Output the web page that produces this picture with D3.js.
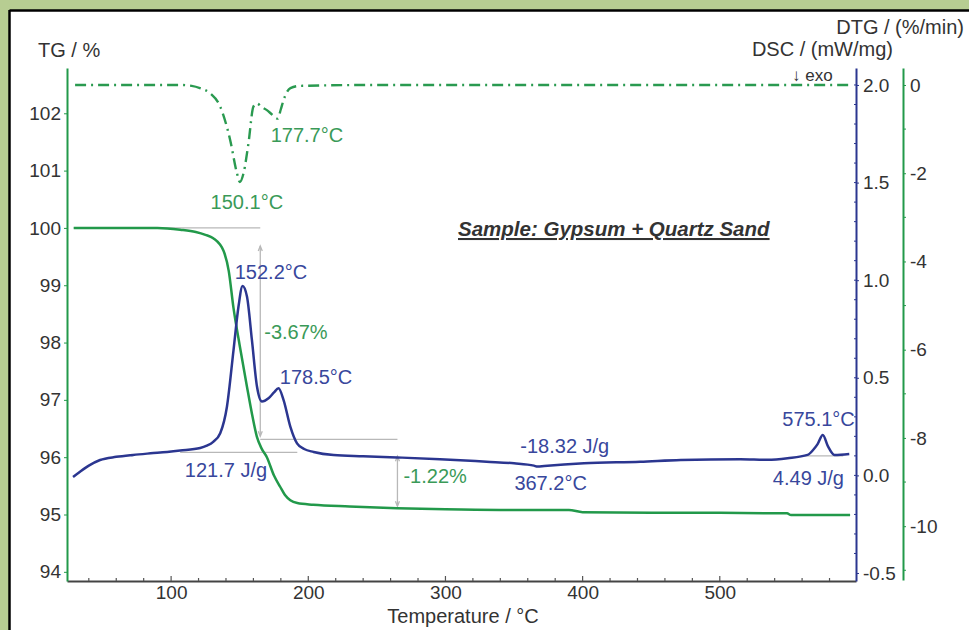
<!DOCTYPE html>
<html><head><meta charset="utf-8">
<script src="https://cdn.jsdelivr.net/npm/d3@7"></script>
<style>
html,body{margin:0;padding:0;background:#b7cd92;}
svg{display:block;font-family:"Liberation Sans",Arial,sans-serif;}
</style></head>
<body>
<svg id="chart" width="969" height="630"></svg>
<script>
// ---- data ----
const tgTemp = [29,60,90,106.6,118,125,130.7,138.2,142,145.5,150,155.3,159,162.5,166,169.8,175,179.6,183,186.9,192,203.6,230,264.7,300,340,390,400,450,500,549,552,595];
const tgVal  = [100.0,100.0,100.0,99.97,99.93,99.88,99.82,99.6,99.25,98.6,97.95,97.23,96.75,96.36,96.15,96.0,95.68,95.48,95.34,95.25,95.2,95.17,95.14,95.11,95.09,95.08,95.08,95.04,95.03,95.03,95.02,94.99,94.99];

const dscTemp = [28.5,33.6,40,48.2,60,72.3,85,97.1,106.6,121.2,126,130.7,135.8,140.7,145.5,149.1,152.1,155.3,158.9,162.6,166.2,171,175,178.3,182,186.9,191.8,197,203.9,218.5,240,264.7,296,330,350,364.5,367.2,372,401,442,471.5,515,534.8,549.4,564,568,571.3,575.1,578.8,583.6,594.4];
const dscVal  = [-0.008,0.019,0.05,0.079,0.095,0.105,0.113,0.12,0.127,0.14,0.152,0.172,0.216,0.352,0.642,0.864,0.97,0.916,0.694,0.455,0.378,0.395,0.425,0.446,0.386,0.25,0.164,0.135,0.12,0.104,0.098,0.092,0.083,0.07,0.062,0.05,0.045,0.048,0.062,0.07,0.079,0.083,0.08,0.088,0.105,0.13,0.16,0.207,0.15,0.105,0.11];

const dtgTemp = [30,80,106.6,115,121,128.5,135.8,143,148,150.1,152.8,156.4,160,162.6,166,169.8,174,177.7,180,182,187,194,250,350,450,550,595];
const dtgVal  = [0,0,0,-0.02,-0.07,-0.19,-0.49,-1.24,-2.0,-2.2,-2.0,-1.32,-0.49,-0.42,-0.5,-0.57,-0.68,-0.76,-0.55,-0.34,-0.07,-0.02,0,0,0,0,0];

const xTicks   = [100,200,300,400,500];
const tgTicks  = [94,95,96,97,98,99,100,101,102];
const dscTicks = [-0.5,0.0,0.5,1.0,1.5,2.0];
const dtgTicks = [-10,-8,-6,-4,-2,0];

const peakLabels = [
  {text:"150.1°C", T:150.1, axis:"dtg", v:-2.2},
  {text:"177.7°C", T:177.7, axis:"dtg", v:-0.76},
  {text:"152.2°C", T:152.2, axis:"dsc", v:0.97},
  {text:"178.5°C", T:178.5, axis:"dsc", v:0.446},
  {text:"367.2°C", T:367.2, axis:"dsc", v:0.045},
  {text:"575.1°C", T:575.1, axis:"dsc", v:0.207}
];
const tgSteps = [
  {text:"-3.67%", T:165, from:100.0, to:96.33},
  {text:"-1.22%", T:265, from:96.33, to:95.11}
];
const enthalpies = [
  {text:"121.7 J/g", T:140},
  {text:"-18.32 J/g", T:387},
  {text:"4.49 J/g", T:566}
];

// ---- layout ----
const svg = d3.select("#chart");
const green = "#22994a", greenTxt = "#3a9a58", navy = "#2b3690", navyTxt = "#38479c", gray="#333";
const fs = 19, fsT = 20;
const hy = s => String(s).replace("\u2212","-");

svg.append("rect").attr("x",0).attr("y",0).attr("width",969).attr("height",630).attr("fill","#b7cd92");
svg.append("rect").attr("x",9).attr("y",10).attr("width",960).attr("height",620).attr("fill","#fff");
svg.append("line").attr("x1",9.5).attr("x2",969).attr("y1",10.5).attr("y2",10.5).attr("stroke","#000").attr("stroke-width",2.5);
svg.append("line").attr("x1",9.5).attr("x2",9.5).attr("y1",10).attr("y2",630).attr("stroke","#000").attr("stroke-width",2.5);

const x = d3.scaleLinear().domain([24.1,599.3]).range([67,856]);
const yTG = d3.scaleLinear().domain([93.84,102.79]).range([581,68]);
const yDSC = d3.scaleLinear().domain([-0.541,2.087]).range([581,68]);
const yDTG = d3.scaleLinear().domain([-11.22,0.385]).range([580,68]);

// x axis
const gx = svg.append("g").attr("transform","translate(0,581)")
  .call(d3.axisBottom(x).tickValues(xTicks).tickSize(0).tickSizeOuter(0).tickPadding(6).tickFormat(d=>String(d)));
gx.select(".domain").attr("stroke","#444").attr("stroke-width",2);
gx.selectAll("text").attr("font-size",fs).attr("fill",gray).attr("font-family","Liberation Sans, Arial").attr("dy","0.62em");
const minorX = d3.range(40,600,20);
svg.append("g").selectAll("line").data(minorX).join("line")
  .attr("x1",d=>x(d)).attr("x2",d=>x(d)).attr("y1",581).attr("y2",d=>d%100===0?576:578)
  .attr("stroke","#555").attr("stroke-width",1.2);

// left TG axis
const gl = svg.append("g").attr("transform","translate(67,0)")
  .call(d3.axisLeft(yTG).tickValues(tgTicks).tickSize(3).tickSizeOuter(0).tickPadding(3).tickFormat(d=>String(d)));
gl.select(".domain").attr("stroke",green).attr("stroke-width",2);
gl.selectAll(".tick line").attr("stroke",green);
gl.selectAll("text").attr("font-size",fs).attr("fill",gray).attr("font-family","Liberation Sans, Arial");

// DSC axis
const gd = svg.append("g").attr("transform","translate(856,0)")
  .call(d3.axisRight(yDSC).tickValues(dscTicks).tickSize(3).tickSizeOuter(0).tickPadding(4).tickFormat(d=>hy(d.toFixed(1))));
gd.select(".domain").attr("stroke",navy).attr("stroke-width",2);
gd.selectAll(".tick line").attr("stroke",navy);
gd.selectAll("text").attr("font-size",fs).attr("fill",gray).attr("font-family","Liberation Sans, Arial");
svg.append("g").selectAll("line").data(d3.range(-4,21).map(d=>d/10)).join("line")
  .attr("x1",854).attr("x2",856).attr("y1",d=>yDSC(d)).attr("y2",d=>yDSC(d)).attr("stroke",navy).attr("stroke-width",1);

// DTG axis
const gt = svg.append("g").attr("transform","translate(903,0)")
  .call(d3.axisRight(yDTG).tickValues(dtgTicks).tickSize(3).tickSizeOuter(0).tickPadding(4).tickFormat(d=>hy(d)));
gt.select(".domain").attr("stroke",green).attr("stroke-width",2);
gt.selectAll(".tick line").attr("stroke",green);
gt.selectAll("text").attr("font-size",fs).attr("fill",gray).attr("font-family","Liberation Sans, Arial");
svg.append("g").selectAll("line").data(d3.range(-11,0,2)).join("line")
  .attr("x1",903).attr("x2",906).attr("y1",d=>yDTG(d)).attr("y2",d=>yDTG(d)).attr("stroke",green).attr("stroke-width",1);

// axis titles
svg.append("text").attr("x",38).attr("y",57).attr("font-size",fsT).attr("fill",gray).text("TG / %");
svg.append("text").attr("x",964).attr("y",34).attr("text-anchor","end").attr("font-size",fsT).attr("fill",gray).text("DTG / (%/min)");
svg.append("text").attr("x",893).attr("y",56).attr("text-anchor","end").attr("font-size",fsT).attr("fill",gray).text("DSC / (mW/mg)");
svg.append("text").attr("x",792).attr("y",81).attr("font-size",17).attr("fill",gray).text("↓ exo");
svg.append("text").attr("x",463).attr("y",623).attr("text-anchor","middle").attr("font-size",fsT).attr("fill",gray).text("Temperature / °C");

// sample title
svg.append("text").attr("x",458).attr("y",236).attr("font-size",20.5).attr("font-weight","bold").attr("font-style","italic")
  .attr("fill","#333").attr("text-decoration","underline").text("Sample: Gypsum + Quartz Sand");

// annotation gray lines
const annot = svg.append("g").attr("stroke","#b8b8b8").attr("stroke-width",1.3).attr("fill","none");
annot.append("line").attr("x1",x(29)).attr("x2",x(165)).attr("y1",yTG(100)).attr("y2",yTG(100));
annot.append("line").attr("x1",x(165)).attr("x2",x(265)).attr("y1",yTG(96.31)).attr("y2",yTG(96.31));
annot.append("line").attr("x1",x(106.6)).attr("x2",x(192)).attr("y1",yDSC(0.118)).attr("y2",yDSC(0.118));
annot.append("line").attr("x1",x(560)).attr("x2",x(590)).attr("y1",yDSC(0.1)).attr("y2",yDSC(0.1));
tgSteps.forEach(s=>{
  const y1 = yTG(s.from)+18, y2 = yTG(s.to)-2;
  annot.append("line").attr("x1",x(s.T)).attr("x2",x(s.T)).attr("y1",y1).attr("y2",y2);
  annot.append("path").attr("d",`M${x(s.T)-2},${y1+5}L${x(s.T)},${y1}L${x(s.T)+2},${y1+5}`);
  annot.append("path").attr("d",`M${x(s.T)-2},${y2-5}L${x(s.T)},${y2}L${x(s.T)+2},${y2-5}`);
});

// curves
const lineTG = d3.line().x(d=>x(d[0])).y(d=>yTG(d[1])).curve(d3.curveMonotoneX);
const lineDSC = d3.line().x(d=>x(d[0])).y(d=>yDSC(d[1])).curve(d3.curveMonotoneX);
const lineDTG = d3.line().x(d=>x(d[0])).y(d=>yDTG(d[1])).curve(d3.curveMonotoneX);

svg.append("path").attr("d",lineDTG(d3.zip(dtgTemp,dtgVal))).attr("fill","none").attr("stroke","#2a9a50")
  .attr("stroke-width",2.4).attr("stroke-dasharray","11,5,2,5");
svg.append("path").attr("d",lineTG(d3.zip(tgTemp,tgVal))).attr("fill","none").attr("stroke",green).attr("stroke-width",2.5);
svg.append("path").attr("d",lineDSC(d3.zip(dscTemp,dscVal))).attr("fill","none").attr("stroke",navy).attr("stroke-width",2.5);

// labels
const lab = svg.append("g").attr("font-size",fsT);
const lp = {
  "150.1°C":{dx:7,dy:27,a:"middle"},
  "177.7°C":{dx:-7,dy:23,a:"start"},
  "152.2°C":{dx:-8,dy:-7,a:"start"},
  "178.5°C":{dx:1,dy:-4,a:"start"},
  "367.2°C":{dx:13,dy:23,a:"middle"},
  "575.1°C":{dx:32,dy:-9,a:"end"}
};
peakLabels.forEach(p=>{
  const yy = p.axis==="dtg"? yDTG(p.v) : yDSC(p.v);
  const o = lp[p.text];
  lab.append("text").attr("x",x(p.T)+o.dx).attr("y",yy+o.dy).attr("text-anchor",o.a)
    .attr("fill",p.axis==="dtg"?greenTxt:navyTxt).text(p.text);
});
tgSteps.forEach((s,i)=>{
  const yy = (yTG(s.from)+yTG(s.to))/2 + (i===0?6:10);
  lab.append("text").attr("x",x(s.T)+(i===0?4:6)).attr("y",yy).attr("fill",greenTxt).text(s.text);
});
const ep = {"121.7 J/g":{y:477},"-18.32 J/g":{y:453},"4.49 J/g":{y:485}};
enthalpies.forEach(e=>{
  lab.append("text").attr("x",e.text==="4.49 J/g"?844:x(e.T)).attr("y",ep[e.text].y)
    .attr("text-anchor",e.text==="4.49 J/g"?"end":"middle").attr("fill",navyTxt).text(e.text);
});
</script>
</body></html>
